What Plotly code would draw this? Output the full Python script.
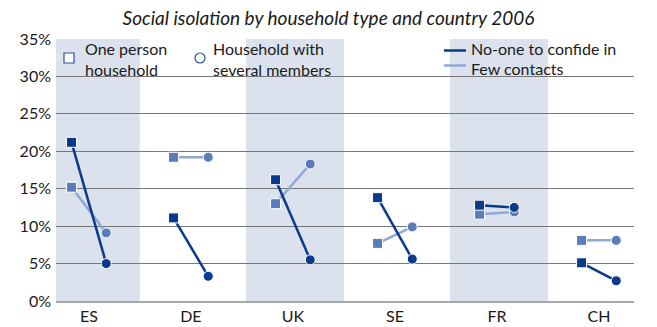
import plotly.graph_objects as go

countries = ["ES", "DE", "UK", "SE", "FR", "CH"]
# share of people (%) by household type: one person vs several members
no_one_single = [21.2, 11.1, 16.2, 13.8, 12.8, 5.1]
no_one_multi = [5.0, 3.3, 5.5, 5.6, 12.5, 2.7]
few_single = [15.2, 19.2, 13.0, 7.7, 11.6, 8.1]
few_multi = [9.1, 19.2, 18.3, 9.9, 11.9, 8.1]
y_ticks = [0, 5, 10, 15, 20, 25, 30, 35]
shaded = ["ES", "UK", "FR"]

DARK = "#0a3a8c"
LIGHT_MARK = "#5a7cba"
LIGHT_LINE = "#8fa8d4"
BAND = "#dbe2ee"
FONT = "Lato"
OFF = 0.17

fig = go.Figure()

def add_pair(i, a, b, line_col, mark_col, lw):
    fig.add_trace(go.Scatter(
        x=[i - OFF, i + OFF], y=[a, b], mode="lines+markers",
        line=dict(color=line_col, width=lw),
        marker=dict(symbol=["square", "circle"], size=10, color=mark_col,
                    line=dict(color="white", width=1)),
        showlegend=False, hoverinfo="skip"))

for i, c in enumerate(countries):
    add_pair(i, few_single[i], few_multi[i], LIGHT_LINE, LIGHT_MARK, 2.5)
for i, c in enumerate(countries):
    add_pair(i, no_one_single[i], no_one_multi[i], DARK, DARK, 2.5)

shapes = []
for c in shaded:
    i = countries.index(c)
    shapes.append(dict(type="rect", xref="x", yref="paper", x0=i - 0.46, x1=i + 0.5,
                       y0=0, y1=1, fillcolor=BAND, line=dict(width=0), layer="below"))

# plot area in pixels: left 56, width 578, bottom 301, height 262
def px(x):
    return (x - 56) / 578

def py(y):
    return (301 - y) / 262

# legend symbols
shapes += [
    dict(type="rect", xref="paper", yref="paper", x0=px(64), x1=px(74),
         y0=py(63), y1=py(53), fillcolor="white", line=dict(color="#2c52a0", width=1.2)),
    dict(type="circle", xref="paper", yref="paper", x0=px(195), x1=px(205),
         y0=py(63), y1=py(53), fillcolor="white", line=dict(color="#2c52a0", width=1.2)),
    dict(type="line", xref="paper", yref="paper", x0=px(444), x1=px(466),
         y0=py(50.5), y1=py(50.5), line=dict(color=DARK, width=2.5)),
    dict(type="line", xref="paper", yref="paper", x0=px(444), x1=px(466),
         y0=py(65.5), y1=py(65.5), line=dict(color=LIGHT_LINE, width=2.5)),
]

def legend_text(x, y, txt):
    return dict(xref="paper", yref="paper", x=px(x), y=py(y),
                text=txt, showarrow=False, xanchor="left", yanchor="middle",
                font=dict(family=FONT, size=16, color="#1a1a1a"), align="left")

annotations = [
    legend_text(83, 59, "One person<br>household"),
    legend_text(211, 59, "Household with<br>several members"),
    legend_text(469, 48.5, "No-one to confide in"),
    legend_text(469, 68, "Few contacts"),
]

fig.update_layout(
    width=657, height=327,
    margin=dict(l=56, r=23, t=39, b=26, autoexpand=False),
    paper_bgcolor="white", plot_bgcolor="white",
    title=dict(text="<i>Social isolation by household type and country 2006</i>",
               x=0.5, xref="container", xanchor="center",
               y=1 - 18 / 327, yanchor="middle",
               font=dict(family=FONT, size=19, color="#1a1a1a")),
    xaxis=dict(range=[-0.3225, 5.344], tickvals=list(range(len(countries))),
               ticktext=countries, showgrid=False, zeroline=False, automargin=False,
               showline=True, linecolor="#a8a8a8", linewidth=2, ticks="",
               tickfont=dict(family=FONT, size=16, color="#1a1a1a")),
    yaxis=dict(range=[0, 35], tickvals=y_ticks, ticktext=[f"{v}%" for v in y_ticks],
               showgrid=True, gridcolor="#777777", gridwidth=1, zeroline=False,
               ticks="", ticklabelstandoff=4, automargin=False,
               tickfont=dict(family=FONT, size=16, color="#1a1a1a")),
    shapes=shapes, annotations=annotations,
)

fig.write_html("out.html")
